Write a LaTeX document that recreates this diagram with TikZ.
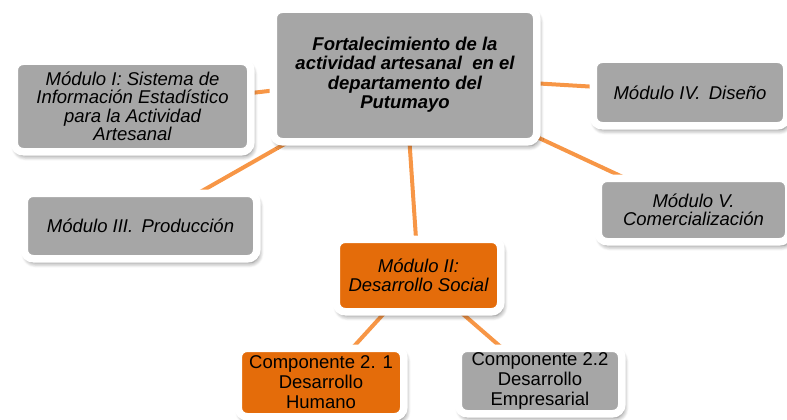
\documentclass[tikz,border=0pt]{standalone}
\usepackage{fontspec}
\setmainfont{Liberation Sans}
\usetikzlibrary{shadows.blur,backgrounds}
\definecolor{boxgray}{HTML}{A6A6A6}
\definecolor{boxorange}{HTML}{E46C0A}
\definecolor{linkorange}{HTML}{F79646}
\begin{document}
\begin{tikzpicture}[x=1pt,y=-1pt,
  box/.style={draw=white, line width=7.5pt, rounded corners=9pt, align=center, inner sep=0pt, text=black,
    blur shadow={shadow xshift=2pt, shadow yshift=-4pt, shadow blur radius=5pt, shadow blur steps=8, shadow opacity=55}},
  graybox/.style={box, fill=boxgray},
  orangebox/.style={box, fill=boxorange},
  modtext/.style={font=\fontsize{18.5}{18.5}\selectfont\itshape},
  comptext/.style={font=\fontsize{18.5}{20}\selectfont},
  link/.style={draw=linkorange, line width=4pt}]
\useasboundingbox (0,0) rectangle (787,420);

\node[graybox, minimum width=263.5pt, minimum height=132.5pt,
  font=\fontsize{18.5}{19.5}\selectfont\bfseries\itshape] (c) at (405,75.5)
  {\raisebox{-3pt}{\begin{tabular}{@{}c@{}}Fortalecimiento de la\\actividad artesanal\ \ en el\\departamento del\\Putumayo\end{tabular}}};

\node[graybox, modtext, minimum width=236.5pt, minimum height=90.5pt] (m1) at (132.5,106.5)
  {Módulo I: Sistema de\\Información Estadístico\\para la Actividad\\Artesanal};

\node[graybox, modtext, minimum width=193.5pt, minimum height=66.5pt] (m4) at (690,92.5)
  {Módulo IV.\,\ Diseño};

\node[graybox, modtext, minimum width=190.5pt, minimum height=63.5pt] (m5) at (693.5,210)
  {Módulo V.\\Comercialización};

\node[graybox, modtext, minimum width=232.5pt, minimum height=65.5pt] (m3) at (140.5,226)
  {Módulo III.\,\ Producción};

\node[orangebox, modtext, minimum width=164.5pt, minimum height=72.5pt] (m2) at (418.5,275.5)
  {Módulo II:\\Desarrollo Social};

\node[orangebox, comptext, minimum width=165.5pt, minimum height=68.5pt] (c21) at (321,382.5)
  {Componente 2. 1\\Desarrollo\\Humano};

\node[graybox, comptext, minimum width=163.5pt, minimum height=65.5pt] (c22) at (540,381)
  {Componente 2.2\\Desarrollo\\Empresarial};

\begin{scope}[on background layer]
  \draw[link] (c.center) -- (m1.center);
  \draw[link] (c.center) -- (m3.center);
  \draw[link] (c.center) -- (m4.center);
  \draw[link] (c.center) -- (m5.center);
  \draw[link] (c.center) -- (m2.center);
  \draw[link] (m2.center) -- (c21.center);
  \draw[link] (m2.center) -- (c22.center);
\end{scope}
\end{tikzpicture}
\end{document}
